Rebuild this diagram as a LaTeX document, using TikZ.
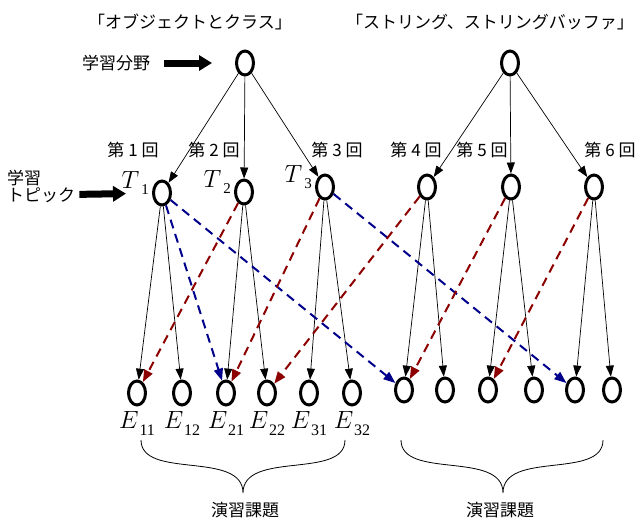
\documentclass[tikz,border=0pt]{standalone}
\usepackage{fontspec}
\setmainfont{Liberation Serif}
\newfontfamily\jpfont{Noto Sans CJK JP}
\usetikzlibrary{shapes.geometric,arrows.meta,positioning}
\definecolor{linkred}{RGB}{140,0,0}
\definecolor{linkblue}{RGB}{0,0,140}
\newcommand{\elab}[1]{{\fontsize{25}{25}\selectfont$E$}\kern1pt\raisebox{-7pt}{\fontsize{16}{16}\selectfont #1}}
\newcommand{\tlab}[1]{{\fontsize{24}{24}\selectfont$T$}\kern2pt\raisebox{-6pt}{\fontsize{15}{15}\selectfont #1}}

\begin{document}
\begin{tikzpicture}[x=1pt,y=-1pt,
    vertex/.style={ellipse,draw,line width=3pt,minimum width=17pt,minimum height=24pt,inner sep=0pt},
    jlab/.style={font=\fontsize{17}{20}\selectfont\jpfont,inner sep=0pt},
    edge/.style={-{Triangle[length=11pt,width=8pt]},line width=0.7pt},
    link/.style={-{Triangle[length=12pt,width=9pt]},line width=2pt,dash pattern=on 9pt off 6pt},
    bigarrow/.style={-{Triangle[length=13pt,width=15pt]},line width=7pt}]
    \useasboundingbox (0,0) rectangle (640,522);
    % titles
    \node[jlab] (title1) at (190,22) {「オブジェクトとクラス」};
    \node[jlab] (title2) at (490,22) {「ストリング、ストリングバッファ」};
    % fields
    \node[vertex] (r1) at (245,63) {};
    \node[vertex] (r2) at (510,63) {};
    \node[jlab] (fieldlbl) at (116,63) {学習分野};
    \draw[bigarrow,shorten <=14pt,shorten >=23pt] (fieldlbl) -- (r1);
    % topics
    \node[vertex] (t1) at (162,193) {};
    \node[vertex] (t2) at (244,192) {};
    \node[vertex] (t3) at (325,187) {};
    \node[vertex] (t4) at (427,187) {};
    \node[vertex] (t5) at (511,187) {};
    \node[vertex] (t6) at (594,187) {};
    \node[jlab] (week1) at (133,150) {第 1 回};
    \node[jlab] (week2) at (214,150) {第 2 回};
    \node[jlab] (week3) at (337,150) {第 3 回};
    \node[jlab] (week4) at (416,150) {第 4 回};
    \node[jlab] (week5) at (482,150) {第 5 回};
    \node[jlab] (week6) at (610,150) {第 6 回};
    \foreach \n in {1,2,3}
        \node[inner sep=0pt,left=3pt of t\n,yshift=10pt] (tl\n) {\tlab{\n}};
    \node[jlab,anchor=west] (learnlbl) at (7,178) {学習};
    \node[jlab,anchor=west] (topiclbl) at (7,195) {トピック};
    \draw[bigarrow,shorten <=4pt,shorten >=26pt] (topiclbl) -- (t1);
    % exercises
    \node[vertex] (e11) at (137,393) {};
    \node[vertex] (e12) at (182,393) {};
    \node[vertex] (e21) at (226,393) {};
    \node[vertex] (e22) at (267,393) {};
    \node[vertex] (e31) at (309,393) {};
    \node[vertex] (e32) at (352,393) {};
    \node[vertex] (e41) at (404,390) {};
    \node[vertex] (e42) at (445,390) {};
    \node[vertex] (e51) at (488,390) {};
    \node[vertex] (e52) at (534,390) {};
    \node[vertex] (e61) at (575,390) {};
    \node[vertex] (e62) at (612,390) {};
    \foreach \n in {1,2,3}
        \foreach \m in {1,2}
            \node[inner sep=0pt,below=5pt of e\n\m] (el\n\m) {\elab{\n\m}};
    % tree edges
    \foreach \n in {1,2,3}
        \draw[edge] (r1) -- (t\n);
    \foreach \n in {4,5,6}
        \draw[edge] (r2) -- (t\n);
    \foreach \n in {1,...,6} {
        \draw[edge] (t\n) -- (e\n1);
        \draw[edge] (t\n) -- (e\n2);
    }
    % cross links
    \draw[link,linkblue] (t1) -- (e21);
    \draw[link,linkblue] (t1) -- (e41);
    \draw[link,linkblue] (t3) -- (e61);
    \draw[link,linkred] (t2) -- (e11);
    \draw[link,linkred] (t3) -- (e21);
    \draw[link,linkred] (t4) -- (e22);
    \draw[link,linkred] (t5) -- (e41);
    \draw[link,linkred] (t6) -- (e51);
    % braces
    \coordinate (tip1) at (243,493);
    \coordinate (tip2) at (503,493);
    \draw[line width=0.8pt] (141,440) .. controls (141,480) and (243,450) .. (tip1)
        .. controls (243,450) and (345,480) .. (345,440);
    \draw[line width=0.8pt] (401,440) .. controls (401,480) and (503,450) .. (tip2)
        .. controls (503,450) and (603,480) .. (603,440);
    \node[jlab] (task1) at (245,510) {演習課題};
    \node[jlab] (task2) at (500,510) {演習課題};
\end{tikzpicture}
\end{document}
